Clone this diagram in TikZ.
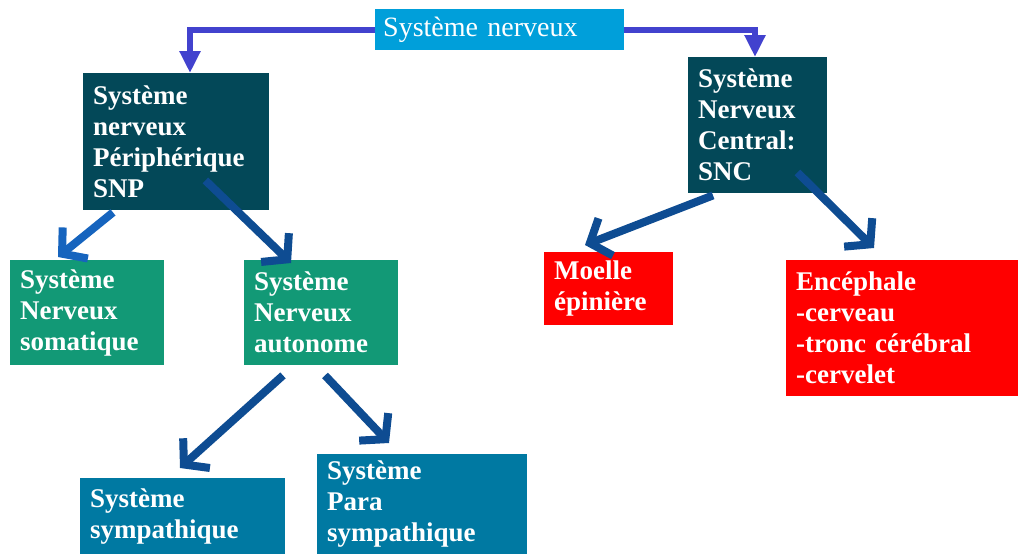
\documentclass[tikz,border=0pt]{standalone}
\usepackage{fontspec}
\setmainfont{Liberation Serif}
\usetikzlibrary{arrows.meta,calc}
\definecolor{rootblue}{RGB}{0,159,218}
\definecolor{deepteal}{RGB}{3,72,88}
\definecolor{leafgreen}{RGB}{18,153,118}
\definecolor{oceanblue}{RGB}{0,121,162}
\definecolor{brightred}{RGB}{255,0,0}
\definecolor{linkviolet}{RGB}{66,66,206}
\definecolor{linknavy}{RGB}{14,76,146}
\definecolor{linkazure}{RGB}{22,100,190}
\begin{document}
\begin{tikzpicture}[x=1pt,y=1pt,
  box/.style={anchor=north west, inner xsep=10pt, inner ysep=0pt, align=left,
    text=white, font=\bfseries\fontsize{27}{31}\selectfont},
  rootbox/.style={anchor=north west, inner xsep=8pt, inner ysep=0pt, align=left,
    text=white, fill=rootblue, font=\fontsize{28}{31}\selectfont},
  toplink/.style={draw=linkviolet, line width=6pt,
    -{Triangle[width=20pt,length=22pt]}},
  branch/.style={draw=linknavy, line width=8pt,
    -{Straight Barb[length=17pt,width=40pt,line join=miter]}}]
\useasboundingbox (0,0) rectangle (1019,-554);

% boxes
\node[rootbox, text width=233pt, minimum height=41pt] (root) at (375,-9) {Système nerveux};
\node[box, fill=deepteal, text width=166pt, minimum height=137pt] (snp) at (83,-73)
  {Système\\nerveux\\Périphérique\\SNP};
\node[box, fill=deepteal, text width=119pt, minimum height=136pt] (snc) at (688,-57)
  {Système\\Nerveux\\Central:\\SNC};
\node[box, fill=leafgreen, text width=134pt, minimum height=105pt] (som) at (10,-260)
  {Système\\Nerveux\\somatique};
\node[box, fill=leafgreen, text width=134pt, minimum height=105pt] (aut) at (244,-260)
  {Système\\Nerveux\\autonome};
\node[box, fill=oceanblue, text width=185pt, minimum height=76pt] (sym) at (80,-478)
  {Système\\sympathique};
\node[box, fill=oceanblue, text width=190pt, minimum height=100pt] (para) at (317,-454)
  {Système\\Para\\sympathique};
\node[box, fill=brightred, text width=109pt, minimum height=73pt] (moe) at (544,-252)
  {Moelle\\épinière};
\node[box, fill=brightred, text width=212pt, minimum height=136pt] (enc) at (786,-260)
  {Encéphale\\-cerveau\\-tronc cérébral\\-cervelet};

% links from the root
\draw[toplink] (root.west) -| ($(snp.north west)+(107,0)$);
\draw[toplink] (root.east) -| ($(snc.north west)+(67,0)$);

% branch arrows
\draw[branch, draw=linkazure] ($(snp.south west)+(30,-2)$) -- ($(som.north west)+(48,3)$);
\draw[branch] ($(snp.south east)+(-64,30)$) -- ($(aut.north west)+(47,-3)$);
\draw[branch] ($(aut.south west)+(39,-10)$) -- ($(sym.north west)+(100,10)$);
\draw[branch] ($(aut.south west)+(81,-10)$) -- ($(para.north west)+(72,11)$);
\draw[branch] ($(snc.south west)+(25,-2)$) -- ($(moe.north west)+(41,7)$);
\draw[branch] ($(snc.south east)+(-30,21)$) -- ($(enc.north west)+(88,12)$);
\end{tikzpicture}
\end{document}
